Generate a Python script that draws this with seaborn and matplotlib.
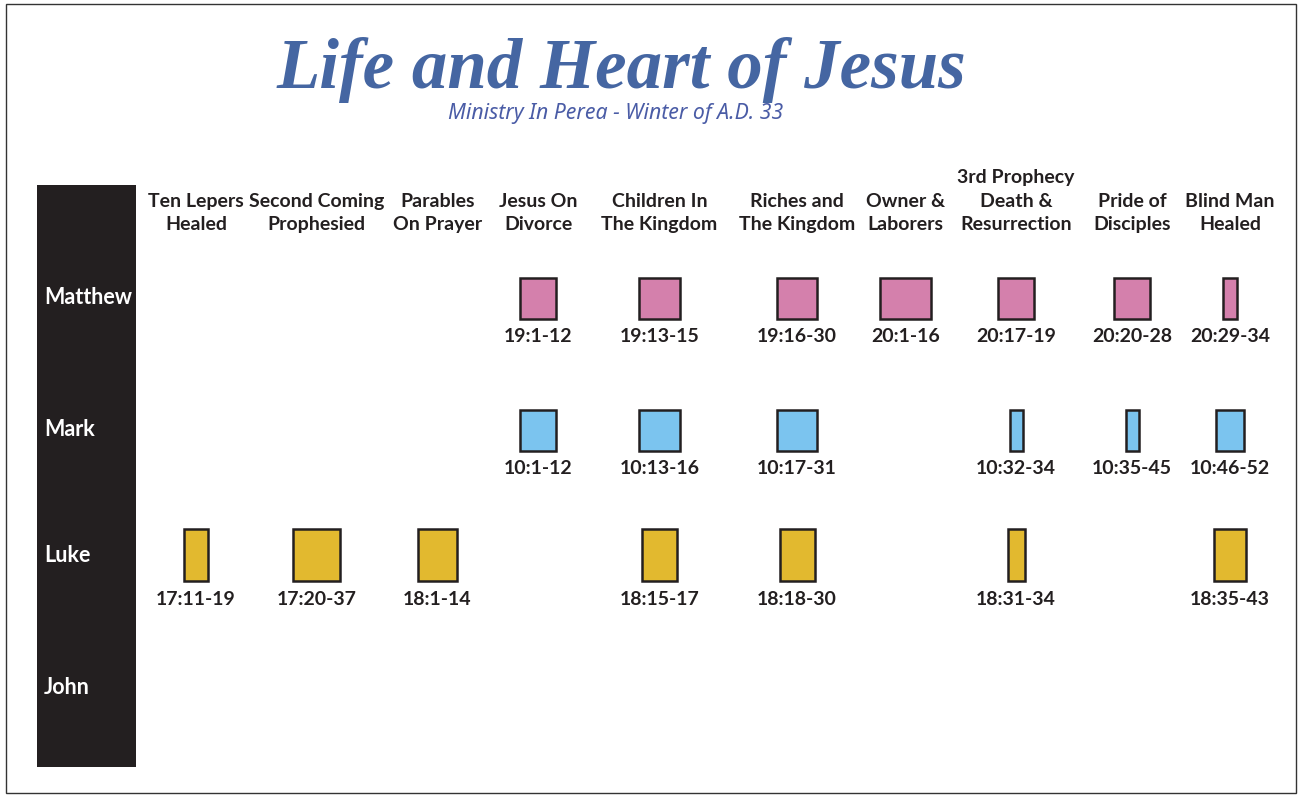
import matplotlib.pyplot as plt
import seaborn as sns
import pandas as pd
from matplotlib.patches import Rectangle

# --- data ---
gospels = ["Matthew", "Mark", "Luke", "John"]

events = ["Ten Lepers\nHealed", "Second Coming\nProphesied", "Parables\nOn Prayer",
          "Jesus On\nDivorce", "Children In\nThe Kingdom", "Riches and\nThe Kingdom",
          "Owner &\nLaborers", "3rd Prophecy\nDeath &\nResurrection",
          "Pride of\nDisciples", "Blind Man\nHealed"]

matthew_refs = [None, None, None, "19:1-12", "19:13-15", "19:16-30", "20:1-16",
                "20:17-19", "20:20-28", "20:29-34"]
matthew_len = [0, 0, 0, 36, 41, 40, 51, 36, 36, 14]

mark_refs = [None, None, None, "10:1-12", "10:13-16", "10:17-31", None,
             "10:32-34", "10:35-45", "10:46-52"]
mark_len = [0, 0, 0, 36, 41, 40, 0, 13, 13, 28]

luke_refs = ["17:11-19", "17:20-37", "18:1-14", None, "18:15-17", "18:18-30", None,
             "18:31-34", None, "18:35-43"]
luke_len = [24, 47, 39, 0, 35, 35, 0, 17, 0, 32]

john_refs = [None] * 10
john_len = [0] * 10

# --- layout / style ---
col_x = [196, 316.5, 437.5, 538, 659.5, 797, 905.5, 1016, 1132, 1230]
row_y = {"Matthew": 298, "Mark": 430, "Luke": 555, "John": 687}
box_h = {"Matthew": 41, "Mark": 41, "Luke": 52, "John": 41}
palette = {"Matthew": "#D480AC", "Mark": "#7BC4EF", "Luke": "#E2B92F", "John": "#cccccc"}
ink = "#231F20"

rows = []
for g, refs, lens in [("Matthew", matthew_refs, matthew_len), ("Mark", mark_refs, mark_len),
                      ("Luke", luke_refs, luke_len), ("John", john_refs, john_len)]:
    for i, (r, l) in enumerate(zip(refs, lens)):
        if r is not None:
            rows.append([g, i, r, l])
df = pd.DataFrame(rows, columns=["Gospel", "Event", "Ref", "Length"])

sns.set_theme(style="white")
plt.rcParams['font.family'] = ['Lato', 'DejaVu Sans']

fig = plt.figure(figsize=(13, 8), dpi=100)
ax = fig.add_axes([0, 0, 1, 1])
ax.set_xlim(0, 1300)
ax.set_ylim(800, 0)
ax.axis("off")

# outer frame and sidebar
ax.add_patch(Rectangle((6, 4), 1290, 789, fill=False, edgecolor="#333333", linewidth=1))
ax.add_patch(Rectangle((37, 185), 99, 582, facecolor=ink, edgecolor="none"))

ax.text(621, 88, "Life and Heart of Jesus", ha="center", va="baseline",
        fontsize=51, fontstyle="italic", fontweight="bold", family="Liberation Serif",
        color="#4566A2")
ax.text(616, 119, "Ministry In Perea - Winter of A.D. 33", ha="center", va="baseline",
        fontsize=15.3, fontstyle="italic", family="Noto Sans", color="#4A5CA6")

for g in gospels:
    ax.text(44, row_y[g], g, ha="left", va="center", fontsize=15.5, fontweight="bold",
            color="white")

for i, e in enumerate(events):
    ax.text(col_x[i], 233, e, ha="center", va="bottom", fontsize=14, fontweight="bold",
            color=ink, linespacing=1.45)

for g, sub in df.groupby("Gospel", sort=False):
    xs = [col_x[i] for i in sub["Event"]]
    h = box_h[g]
    ax.bar(xs, h, bottom=row_y[g] - h / 2, width=sub["Length"], color=palette[g],
           edgecolor=ink, linewidth=1.8)
    for x, r in zip(xs, sub["Ref"]):
        ax.text(x, row_y[g] + h / 2 + 10, r, ha="center", va="top", fontsize=14,
                fontweight="bold", color=ink)

fig.savefig("out.png", dpi=100)
